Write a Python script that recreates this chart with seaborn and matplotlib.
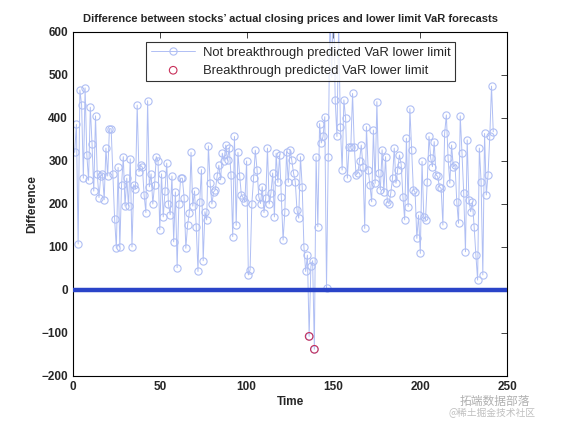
import numpy as np
import pandas as pd
import matplotlib
matplotlib.use("Agg")
import matplotlib.pyplot as plt
import seaborn as sns

# difference between actual close and VaR lower limit, one value per day (day 1..241)
diff_values = [
    320, 385, 107, 465, 430, 260, 470, 315, 255, 425,
    340, 230, 405, 270, 215, 265, 270, 210, 330, 265,
    375, 375, 270, 165, 97, 285, 100, 245, 310, 195,
    260, 195, 305, 100, 245, 235, 430, 275, 290, 285,
    220, 180, 440, 240, 270, 200, 245, 310, 300, 140,
    270, 170, 230, 295, 200, 175, 265, 112, 228, 52,
    200, 260, 260, 215, 97, 150, 180, 320, 195, 230,
    147, 43, 205, 280, 68, 182, 163, 335, 248, 200,
    228, 233, 264, 290, 256, 318, 300, 337, 302, 330,
    268, 124, 357, 150, 320, 265, 220, 215, 205, 300,
    35, 47, 200, 260, 325, 280, 217, 201, 240, 180,
    213, 330, 200, 225, 272, 170, 318, 250, 314, 217,
    116, 182, 322, 250, 326, 302, 272, 252, 186, 167,
    310, 240, 100, 43, 81, -108, 55, 68, -138, 310,
    147, 387, 342, 357, 403, 5, 310, 650, 495, 700,
    442, 357, 620, 380, 279, 442, 399, 260, 333, 333,
    457, 333, 268, 272, 300, 337, 287, 143, 380, 279,
    244, 205, 372, 248, 438, 272, 233, 326, 228, 310,
    205, 201, 225, 260, 330, 248, 280, 314, 291, 217,
    163, 353, 194, 422, 326, 233, 228, 120, 174, 85,
    299, 170, 163, 252, 357, 306, 287, 345, 268, 264,
    240, 236, 151, 364, 407, 306, 248, 337, 287, 291,
    205, 155, 405, 318, 225, 89, 349, 209, 182, 205,
    147, 81, 23, 330, 252, 35, 364, 221, 268, 357,
    474, 368,
]
days = list(range(1, len(diff_values) + 1))

x_ticks = [0, 50, 100, 150, 200, 250]
y_ticks = [-200, -100, 0, 100, 200, 300, 400, 500, 600]

title = "Difference between stocks\u2019 actual closing prices and lower limit VaR forecasts"
label_ok = "Not breakthrough predicted VaR lower limit"
label_break = "Breakthrough predicted VaR lower limit"

df = pd.DataFrame({"day": days, "diff": diff_values})
breaks = df[df["diff"] < 0]

sns.set_style("white")
plt.rcParams["font.family"] = ["Liberation Sans", "DejaVu Sans"]

fig = plt.figure(figsize=(5.61, 4.21), dpi=100)
ax = fig.add_axes([0.130, 0.107, 0.774, 0.817])

blue = "#b0bff4"
sns.lineplot(data=df, x="day", y="diff", ax=ax, sort=False, estimator=None,
             color=blue, linewidth=0.7, marker="o", markersize=5.2,
             markerfacecolor="none", markeredgecolor=blue,
             markeredgewidth=0.8, label=label_ok)
sns.scatterplot(data=breaks, x="day", y="diff", ax=ax, s=30,
                facecolor="none", edgecolor="#c8305a", linewidth=0.8,
                label=label_break, zorder=4)
ax.axhline(0, color="#2a44c8", linewidth=3.2, zorder=3)

ax.set_xlim(0, 250)
ax.set_ylim(-200, 600)
ax.set_xticks(x_ticks)
ax.set_yticks(y_ticks)
ax.tick_params(direction="in", top=True, right=True, length=4, width=0.6,
               labelsize=8.5)
for lab in ax.get_xticklabels() + ax.get_yticklabels():
    lab.set_fontweight("bold")
for sp in ax.spines.values():
    sp.set_linewidth(0.8)
    sp.set_color("black")

ax.set_title(title, fontsize=8, fontweight="bold", pad=7)
ax.set_xlabel("Time", fontsize=8.5, fontweight="bold", labelpad=2)
ax.set_ylabel("Difference", fontsize=8.5, fontweight="bold", labelpad=2)

leg = ax.legend(loc="upper center", bbox_to_anchor=(0.525, 0.99), fontsize=9.4,
                frameon=True, fancybox=False, borderpad=0.35,
                handletextpad=0.6, labelspacing=0.45, handlelength=3.4)
leg.get_frame().set_edgecolor("black")
leg.get_frame().set_linewidth(0.8)

# watermark seen in the reference corner
fig.text(0.82, 0.046, "拓端数据部落", fontsize=8.5, color="#b0b0b0",
         family=["Noto Sans CJK SC", "DejaVu Sans"], ha="left", va="center")
fig.text(0.80, 0.018, "@稀土掘金技术社区", fontsize=7, color="#c0c0c0",
         family=["Noto Sans CJK SC", "DejaVu Sans"], ha="left", va="center")

fig.savefig("out.png", dpi=100)
